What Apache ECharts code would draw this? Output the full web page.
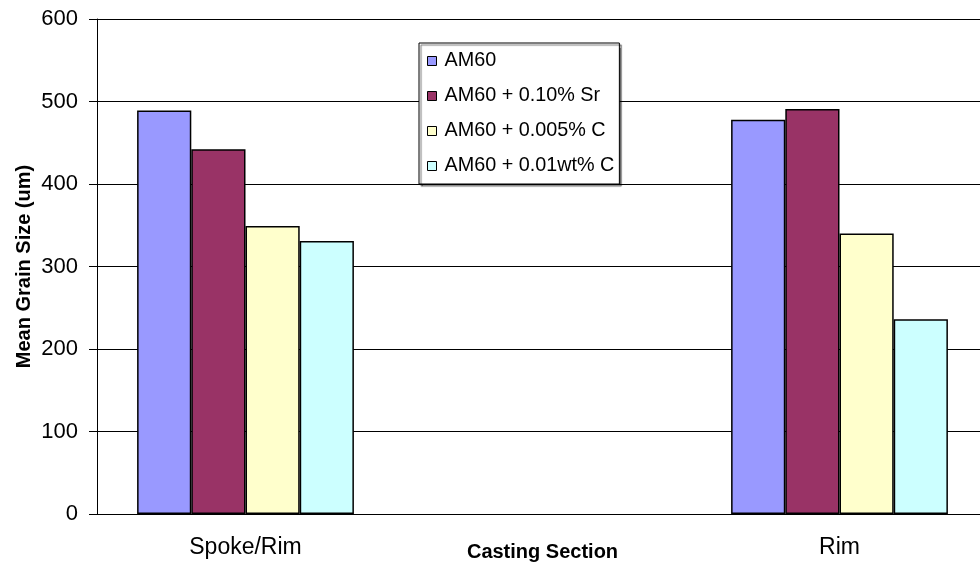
<!DOCTYPE html>
<html>
<head>
<meta charset="utf-8">
<style>
  html, body { margin: 0; padding: 0; background: #fff; }
  #chart { width: 980px; height: 563px; }
</style>
<script src="https://cdn.jsdelivr.net/npm/echarts@6/dist/echarts.min.js"></script>
</head>
<body>
<div id="chart"></div>
<script>
// Casting sections along the x axis (the middle slot is left empty)
const sections = ['Spoke/Rim', '', 'Rim'];

// Alloy series
const seriesNames = ['AM60', 'AM60 + 0.10% Sr', 'AM60 + 0.005% C', 'AM60 + 0.01wt% C'];
const seriesColors = ['#9999FF', '#993366', '#FFFFCC', '#CCFFFF'];

// Mean grain size (um) per section
const am60 = [489, null, 478];
const am60Sr = [442, null, 491];
const am60C005 = [349, null, 340];
const am60C01 = [331, null, 236];

const values = [am60, am60Sr, am60C005, am60C01];

const yTicks = { min: 0, max: 600, interval: 100 };

const font = 'Liberation Sans, Arial, sans-serif';

const chart = echarts.init(document.getElementById('chart'), null, { renderer: 'canvas' });

chart.setOption({
  animation: false,
  backgroundColor: '#fff',
  grid: {
    left: 97, top: 19, width: 891, height: 495,
    containLabel: false,
    outerBoundsMode: 'none'
  },
  legend: {
    orient: 'vertical',
    left: 419,
    top: 43,
    data: seriesNames,
    icon: 'rect',
    itemWidth: 9,
    itemHeight: 9,
    itemGap: 15,
    itemStyle: { borderColor: '#000', borderWidth: 1 },
    textStyle: { fontFamily: font, fontSize: 19.8, color: '#000', padding: [0, 0, 0, 3] },
    backgroundColor: '#fff',
    borderColor: '#000',
    borderWidth: 1,
    padding: [8, 5, 8, 8],
    shadowColor: 'rgba(0,0,0,0.55)',
    shadowBlur: 1,
    shadowOffsetX: 2,
    shadowOffsetY: 2
  },
  xAxis: {
    type: 'category',
    data: sections,
    name: 'Casting Section',
    nameLocation: 'middle',
    nameGap: 28,
    nameMoveOverlap: false,
    nameTextStyle: { fontFamily: font, fontSize: 20, fontWeight: 'bold', color: '#000' },
    axisLine: { lineStyle: { color: '#000', width: 1 } },
    axisTick: { length: 8, lineStyle: { color: '#000' } },
    axisLabel: { fontFamily: font, fontSize: 23, color: '#000', margin: 22 },
    splitLine: { show: false }
  },
  yAxis: {
    type: 'value',
    min: yTicks.min,
    max: yTicks.max,
    interval: yTicks.interval,
    name: 'Mean Grain Size (um)',
    nameLocation: 'middle',
    nameGap: 63,
    nameRotate: 90,
    nameMoveOverlap: false,
    nameTextStyle: { fontFamily: font, fontSize: 20, fontWeight: 'bold', color: '#000' },
    axisLine: { show: true, lineStyle: { color: '#000', width: 1 } },
    axisTick: { show: true, length: 8, lineStyle: { color: '#000' } },
    axisLabel: { fontFamily: font, fontSize: 22, color: '#000', margin: 19 },
    splitLine: { show: true, lineStyle: { color: '#000', width: 1 } }
  },
  series: seriesNames.map((name, i) => ({
    name: name,
    type: 'bar',
    data: values[i],
    barGap: '0%',
    barCategoryGap: '27%',
    itemStyle: { color: seriesColors[i], borderColor: '#000', borderWidth: 1.5 }
  }))
});
</script>
</body>
</html>
